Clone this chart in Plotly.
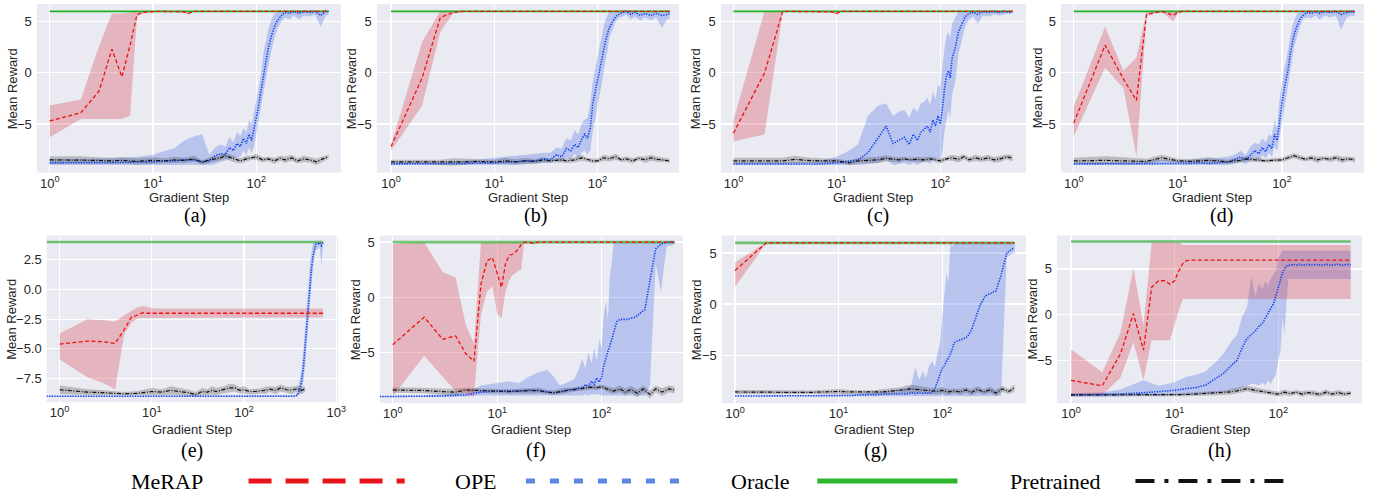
import plotly.graph_objects as go

W, H = 1391, 498

# ---------------- data ----------------
PANEL_LABELS = ["(a)", "(b)", "(c)", "(d)", "(e)", "(f)", "(g)", "(h)"]
ORACLE_VALUES = [6, 6, 6, 6, 4, 5, 6, 8]
ORACLE_START = [1, 1, 1, 1, 0.72, 1, 1, 1]
ORACLE_END = [500, 500, 500, 500, 720, 500, 500, 500]

X_TICK_VALUES = [1, 10, 100, 1000]
X_TICK_TEXT = ["10<sup>0</sup>", "10<sup>1</sup>", "10<sup>2</sup>", "10<sup>3</sup>"]
Y_TICKS_MAIN = [-5, 0, 5]
Y_TICKS_MAIN_TEXT = ["\u22125", "0", "5"]
Y_TICKS_E = [-7.5, -5, -2.5, 0, 2.5]
Y_TICKS_E_TEXT = ["\u22127.5", "\u22125.0", "\u22122.5", "0.0", "2.5"]

LEGEND_NAMES = ["MeRAP", "OPE", "Oracle", "Pretrained"]

MERAP_STEPS = [1, 2, 3, 4, 5, 6, 7, 8, 9, 10, 11, 12, 13, 14, 15, 16, 17, 18, 20, 22, 25, 30, 50, 100, 200, 500]
E_MERAP_STEPS = [1, 2, 3, 4, 5, 6, 7, 8, 9, 10, 11, 12, 13, 14, 15, 16, 17, 18, 20, 22, 25, 30, 50, 100, 200, 720]

OPE_STEPS = [1, 2, 3, 5, 7, 10, 13, 16, 20, 25, 30, 35, 40, 45, 50, 55, 60, 65, 70, 75,
             80, 85, 90, 95, 100, 105, 110, 115, 120, 125, 130, 140, 150, 160, 175,
             190, 210, 230, 260, 290, 330, 370, 420, 470, 500]
F_OPE_STEPS = [0.75, 1, 2, 3, 5, 7, 10, 13, 16, 20, 25, 30, 35, 40, 45, 50, 55, 60, 65, 70, 75,
               80, 85, 90, 95, 100, 105, 110, 115, 120, 125, 130, 140, 150, 160, 175,
               190, 210, 230, 260, 290, 330, 370, 420, 470, 500]
E_OPE_STEPS = [0.72, 1, 2, 5, 10, 20, 50, 100, 200, 300, 360, 380, 400, 420, 440, 460, 480,
               500, 520, 540, 560, 580, 600, 630, 660, 690, 720]

PRE_STEPS = [1, 2, 3, 4, 5, 7, 10, 13, 16, 20, 25, 30, 35, 40, 45, 50, 60, 70, 80, 90, 100,
             115, 130, 150, 170, 190, 220, 250, 290, 330, 380, 440, 500]
E_PRE_STEPS = [1, 2, 3, 4, 5, 7, 10, 13, 16, 20, 25, 30, 35, 40, 45, 50, 60, 70, 80, 90, 100,
               115, 130, 150, 170, 190, 220, 250, 290, 330, 380, 420, 460]

# ---- MeRAP ----
A_MERAP = [-4.7, -3.9, -1.8, 2.3, -0.4, 2.7, 5.7, 5.9, 5.95, 6.0, 6.0, 6.0, 6.0, 6.0, 6.0, 6.0, 6.0, 6.0, 5.95, 5.8, 6.0, 6.0, 6.0, 6.0, 6.0, 6.0]
A_MERAP_LO = [-6.3, -4.5, -4.5, -4.5, -4.5, -4.2, 5.5, 5.8, 5.9, 5.95, 5.95, 5.95, 5.95, 5.95, 5.95, 5.95, 5.95, 5.95, 5.85, 5.7, 5.95, 5.95, 5.95, 5.95, 5.95, 5.95]
A_MERAP_HI = [-3.2, -2.6, 2.6, 5.8, 5.8, 5.9, 6.0, 6.05, 6.05, 6.05, 6.05, 6.05, 6.05, 6.05, 6.05, 6.05, 6.05, 6.05, 6.05, 5.9, 6.05, 6.05, 6.05, 6.05, 6.05, 6.05]

B_MERAP = [-7.2, -0.5, 5.4, 5.9, 6.0, 6.0, 6.0, 6.0, 6.0, 6.0, 6.0, 6.0, 6.0, 6.0, 6.0, 6.0, 6.0, 6.0, 6.0, 6.0, 6.0, 6.0, 6.0, 6.0, 6.0, 6.0]
B_MERAP_LO = [-7.6, -3.2, 4.0, 5.8, 5.95, 5.95, 5.95, 5.95, 5.95, 5.95, 5.95, 5.95, 5.95, 5.95, 5.95, 5.95, 5.95, 5.95, 5.95, 5.95, 5.95, 5.95, 5.95, 5.95, 5.95, 5.95]
B_MERAP_HI = [-7.0, 3.0, 6.05, 6.05, 6.05, 6.05, 6.05, 6.05, 6.05, 6.05, 6.05, 6.05, 6.05, 6.05, 6.05, 6.05, 6.05, 6.05, 6.05, 6.05, 6.05, 6.05, 6.05, 6.05, 6.05, 6.05]

C_MERAP = [-5.9, 0.0, 6.0, 6.0, 6.0, 6.0, 6.0, 6.0, 5.95, 5.8, 6.0, 6.0, 6.0, 6.0, 6.0, 6.0, 6.0, 6.0, 6.0, 6.0, 6.0, 6.0, 6.0, 6.0, 6.0, 6.0]
C_MERAP_LO = [-6.7, -6.0, 5.95, 5.95, 5.95, 5.95, 5.95, 5.95, 5.85, 5.65, 5.95, 5.95, 5.95, 5.95, 5.95, 5.95, 5.95, 5.95, 5.95, 5.95, 5.95, 5.95, 5.95, 5.95, 5.95, 5.95]
C_MERAP_HI = [-4.6, 6.0, 6.05, 6.05, 6.05, 6.05, 6.05, 6.05, 6.05, 5.95, 6.05, 6.05, 6.05, 6.05, 6.05, 6.05, 6.05, 6.05, 6.05, 6.05, 6.05, 6.05, 6.05, 6.05, 6.05, 6.05]

D_MERAP = [-4.9, 2.7, -0.6, -2.7, 5.7, 5.9, 6.0, 5.8, 5.6, 5.9, 6.0, 6.0, 6.0, 6.0, 6.0, 6.0, 6.0, 6.0, 6.0, 6.0, 6.0, 6.0, 6.0, 6.0, 6.0, 6.0]
D_MERAP_LO = [-6.2, 0.5, -1.5, -8.2, 5.5, 5.8, 5.9, 5.5, 5.0, 5.8, 5.95, 5.95, 5.95, 5.95, 5.95, 5.95, 5.95, 5.95, 5.95, 5.95, 5.95, 5.95, 5.95, 5.95, 5.95, 5.95]
D_MERAP_HI = [-3.3, 4.5, 0.2, 1.5, 5.95, 6.05, 6.05, 6.05, 6.05, 6.05, 6.05, 6.05, 6.05, 6.05, 6.05, 6.05, 6.05, 6.05, 6.05, 6.05, 6.05, 6.05, 6.05, 6.05, 6.05, 6.05]

E_MERAP = [-4.6, -4.35, -4.4, -4.55, -3.4, -2.35, -2.15, -1.95, -2.0, -2.0, -2.0, -2.0, -2.0, -2.0, -2.0, -2.0, -2.0, -2.0, -2.0, -2.0, -2.0, -2.0, -2.0, -2.0, -2.0, -2.0]
E_MERAP_LO = [-5.9, -7.4, -7.9, -8.4, -3.8, -2.8, -2.45, -2.4, -2.4, -2.35, -2.35, -2.35, -2.35, -2.35, -2.35, -2.35, -2.35, -2.35, -2.35, -2.35, -2.35, -2.35, -2.35, -2.35, -2.35, -2.35]
E_MERAP_HI = [-3.7, -2.5, -2.6, -2.7, -2.2, -1.8, -1.5, -1.4, -1.5, -1.55, -1.6, -1.6, -1.6, -1.6, -1.6, -1.6, -1.6, -1.6, -1.6, -1.6, -1.6, -1.6, -1.6, -1.6, -1.6, -1.6]

F_MERAP = [-4.3, -1.8, -3.8, -3.5, -5.1, -5.8, 1.2, 3.3, 3.6, 2.1, 0.9, 3.0, 3.8, 3.9, 4.1, 4.4, 4.8, 5.0, 5.0, 4.9, 5.0, 5.0, 5.0, 5.0, 5.0, 5.0]
F_MERAP_LO = [-9.0, -5.3, -7.2, -8.5, -8.8, -9.0, -1.5, 0.5, 1.0, -1.5, -1.9, 0.5, 1.5, 2.0, 2.2, 2.4, 2.5, 4.8, 4.9, 4.8, 4.95, 4.95, 4.95, 4.95, 4.95, 4.95]
F_MERAP_HI = [4.8, 5.0, 2.3, 1.8, -2.5, -4.2, 5.0, 5.0, 5.0, 5.0, 5.0, 5.0, 5.0, 5.0, 5.0, 5.0, 5.0, 5.05, 5.05, 5.05, 5.05, 5.05, 5.05, 5.05, 5.05, 5.05]

G_MERAP = [3.3, 6.0, 6.0, 6.0, 6.0, 6.0, 6.0, 6.0, 6.0, 6.0, 6.0, 6.0, 6.0, 6.0, 6.0, 6.0, 6.0, 6.0, 6.0, 6.0, 6.0, 6.0, 6.0, 6.0, 6.0, 6.0]
G_MERAP_LO = [1.7, 5.95, 5.95, 5.95, 5.95, 5.95, 5.95, 5.95, 5.95, 5.95, 5.95, 5.95, 5.95, 5.95, 5.95, 5.95, 5.95, 5.95, 5.95, 5.95, 5.95, 5.95, 5.95, 5.95, 5.95, 5.95]
G_MERAP_HI = [4.1, 6.05, 6.05, 6.05, 6.05, 6.05, 6.05, 6.05, 6.05, 6.05, 6.05, 6.05, 6.05, 6.05, 6.05, 6.05, 6.05, 6.05, 6.05, 6.05, 6.05, 6.05, 6.05, 6.05, 6.05, 6.05]

H_MERAP = [-7.2, -7.8, -4.3, 0.1, -3.9, 3.0, 3.7, 3.7, 3.3, 3.7, 4.8, 5.6, 5.9, 5.95, 5.95, 5.95, 5.95, 5.95, 5.95, 5.95, 5.95, 5.95, 5.95, 5.95, 5.95, 5.95]
H_MERAP_LO = [-8.8, -8.8, -6.9, -3.0, -7.2, -2.8, -2.8, -2.8, -2.8, -1.0, 0.5, 1.7, 1.7, 1.7, 1.7, 1.7, 1.7, 1.7, 1.7, 1.7, 1.7, 1.7, 1.7, 1.7, 1.7, 1.7]
H_MERAP_HI = [-3.8, -6.3, -2.0, 5.1, -1.2, 7.9, 7.9, 7.9, 7.9, 7.9, 7.9, 7.6, 7.6, 7.6, 7.6, 7.6, 7.6, 7.6, 7.6, 7.6, 7.6, 7.6, 7.6, 7.6, 7.6, 7.6]

# ---- OPE ----
A_OPE = [-8.8, -8.8, -8.8, -8.75, -8.7, -8.7, -8.6, -8.6, -8.5, -8.5,
         -8.7, -8.6, -8.1, -7.9, -8.0, -7.3, -7.6, -6.9, -7.2, -6.4,
         -6.9, -6.0, -6.6, -5.5, -4.5, -3.3, -2.0, -0.8, 0.3, 1.3,
         2.3, 3.6, 4.5, 5.1, 5.6, 5.9, 5.8, 6.0, 5.8, 6.0,
         5.9, 6.0, 5.6, 6.0, 6.0]
A_OPE_LO = [-9.0, -9.0, -9.0, -9.0, -9.0, -9.0, -9.0, -9.0, -9.0, -9.0,
            -9.0, -9.0, -8.9, -8.7, -8.6, -8.4, -8.4, -8.2, -8.2, -7.6,
            -8.0, -7.3, -7.8, -7.2, -6.2, -5.0, -3.6, -2.6, -1.4, -0.4,
            0.6, 2.2, 3.4, 4.3, 5.0, 5.4, 5.2, 5.6, 5.2, 5.6,
            5.5, 5.7, 4.5, 5.6, 5.7]
A_OPE_HI = [-8.4, -8.4, -8.4, -8.3, -8.2, -8.0, -7.6, -7.4, -6.6, -6.2,
            -6.0, -8.0, -7.3, -7.0, -7.2, -6.3, -6.8, -5.8, -6.2, -5.4,
            -5.8, -4.6, -5.0, -3.8, -2.8, -1.6, -0.4, 1.0, 2.6, 3.2,
            4.2, 5.2, 5.8, 6.0, 6.0, 6.0, 6.0, 6.0, 6.0, 6.0,
            6.0, 6.0, 6.0, 6.0, 6.0]

B_OPE = [-8.9, -8.9, -8.9, -8.85, -8.8, -8.8, -8.7, -8.7, -8.6, -8.6,
         -8.4, -8.5, -8.0, -8.2, -7.4, -7.6, -7.0, -7.3, -6.5, -6.0,
         -6.4, -5.4, -3.0, -1.8, -0.5, 0.6, 1.4, 2.4, 3.2, 3.8,
         4.4, 5.0, 5.5, 5.7, 5.9, 6.0, 5.7, 5.9, 5.6, 5.8,
         5.6, 5.8, 5.6, 5.7, 5.8]
B_OPE_LO = [-9.0, -9.0, -9.0, -9.0, -9.0, -9.0, -9.0, -9.0, -8.9, -8.9,
            -8.8, -8.8, -8.6, -8.7, -8.3, -8.5, -7.9, -8.4, -7.8, -7.6,
            -8.0, -7.6, -5.6, -4.6, -3.2, -2.2, -1.2, 0.2, 1.4, 2.2,
            3.4, 4.2, 5.0, 5.3, 5.5, 5.7, 5.2, 5.5, 5.1, 5.4,
            5.1, 5.4, 4.4, 5.2, 5.3]
B_OPE_HI = [-8.7, -8.7, -8.7, -8.6, -8.5, -8.3, -8.2, -8.1, -8.0, -7.9,
            -7.8, -7.8, -7.3, -7.4, -6.4, -6.6, -5.6, -6.0, -5.0, -4.6,
            -4.4, -3.0, -0.8, 0.4, 1.8, 2.8, 3.6, 4.6, 5.2, 5.6,
            6.0, 6.0, 6.0, 6.0, 6.0, 6.0, 6.0, 6.0, 6.0, 6.0,
            6.0, 6.0, 6.0, 6.0, 6.0]

C_OPE = [-8.9, -8.9, -8.9, -8.9, -8.9, -8.8, -8.6, -8.5, -7.8, -6.3,
         -5.2, -6.9, -6.6, -6.3, -7.0, -6.0, -6.6, -5.8, -5.5, -5.2,
         -5.8, -4.6, -5.2, -4.2, -5.0, -3.5, -1.5, -0.3, 0.2, -0.5,
         1.4, 2.5, 4.0, 4.6, 5.5, 5.8, 5.9, 5.7, 6.0, 5.9,
         6.0, 5.9, 6.0, 5.9, 6.0]
C_OPE_LO = [-9.0, -9.0, -9.0, -9.0, -9.0, -9.0, -9.0, -9.0, -8.9, -8.8,
            -8.5, -9.0, -8.9, -8.8, -9.0, -8.8, -9.0, -8.8, -8.6, -8.7,
            -8.9, -8.5, -8.6, -8.2, -8.6, -7.6, -5.6, -4.6, -3.6, -4.4,
            -2.2, -0.8, 1.8, 3.0, 4.6, 5.2, 5.5, 4.8, 5.6, 5.5,
            5.7, 5.6, 5.7, 5.8, 5.8]
C_OPE_HI = [-8.7, -8.7, -8.7, -8.7, -8.6, -8.2, -7.6, -7.0, -4.2, -3.2,
            -3.0, -4.2, -3.8, -3.6, -4.4, -3.4, -3.8, -3.0, -2.8, -2.4,
            -3.2, -1.8, -2.6, -1.2, -1.4, 0.6, 2.4, 3.6, 4.0, 3.4,
            4.8, 5.4, 6.0, 6.0, 6.0, 6.0, 6.0, 6.0, 6.0, 6.0,
            6.0, 6.0, 6.0, 6.0, 6.0]

D_OPE = [-8.9, -8.9, -8.9, -8.9, -8.85, -8.9, -8.85, -8.8, -8.85, -8.8,
         -8.7, -8.5, -8.2, -8.5, -8.0, -7.6, -7.9, -7.3, -7.7, -7.0,
         -7.4, -6.0, -6.6, -4.5, -3.0, -1.6, -0.6, 0.4, 1.8, 2.8,
         3.6, 4.6, 5.3, 5.6, 5.9, 5.8, 6.0, 5.8, 6.0, 5.9,
         6.0, 5.7, 5.9, 6.0, 5.9]
D_OPE_LO = [-9.0, -9.0, -9.0, -9.0, -9.0, -9.0, -9.0, -9.0, -9.0, -9.0,
            -9.0, -8.9, -8.7, -8.9, -8.6, -8.3, -8.6, -8.0, -8.4, -7.8,
            -8.2, -7.2, -7.6, -6.2, -5.0, -3.6, -2.4, -1.2, 0.0, 1.2,
            2.4, 3.6, 4.6, 5.2, 5.4, 5.3, 5.6, 5.2, 5.6, 5.4,
            5.6, 4.2, 5.4, 5.6, 5.5]
D_OPE_HI = [-8.7, -8.7, -8.7, -8.6, -8.5, -8.6, -8.5, -8.4, -8.4, -8.3,
            -8.2, -8.0, -7.6, -8.0, -7.2, -6.8, -7.0, -6.4, -6.8, -6.0,
            -6.2, -4.6, -5.4, -2.6, -1.0, 0.4, 1.2, 2.4, 3.6, 4.4,
            5.0, 5.8, 6.0, 6.0, 6.0, 6.0, 6.0, 6.0, 6.0, 6.0,
            6.0, 6.0, 6.0, 6.0, 6.0]

E_OPE = [-9.0, -9.0, -9.0, -9.0, -9.0, -9.0, -9.0, -9.0, -9.0, -9.0,
         -9.0, -8.9, -8.5, -7.8, -6.6, -4.8, -3.0, -1.0, 0.5, 1.8,
         2.8, 3.4, 3.8, 3.85, 3.95, 3.7, 3.95]
E_OPE_LO = [-9.05, -9.05, -9.05, -9.05, -9.05, -9.05, -9.05, -9.05, -9.05, -9.05,
            -9.05, -9.0, -8.9, -8.6, -7.8, -6.4, -4.8, -2.8, -1.0, 0.6,
            1.8, 2.8, 3.3, 3.4, 3.7, 2.0, 3.7]
E_OPE_HI = [-8.95, -8.95, -8.95, -8.95, -8.95, -8.95, -8.95, -8.95, -8.95, -8.95,
            -8.9, -8.6, -7.8, -6.8, -5.2, -3.2, -1.2, 0.8, 2.2, 3.2,
            3.9, 4.0, 4.0, 4.0, 4.0, 4.0, 4.0]

F_OPE = [-9.0,
         -9.0, -9.0, -8.95, -8.85, -8.6, -8.5, -8.45, -8.5, -8.4, -8.45,
         -8.55, -8.65, -8.6, -8.5, -8.35, -8.4, -8.2, -8.3, -7.9, -8.1,
         -7.6, -7.9, -7.3, -7.7, -7.2, -6.2, -5.4, -4.9, -4.4, -3.8,
         -3.1, -2.2, -2.0, -2.0, -2.0, -1.9, -1.8, -1.5, -1.1, 1.5,
         4.4, 4.8, 5.0, 5.0, 5.0]
F_OPE_LO = [-9.05,
            -9.05, -9.05, -9.0, -9.0, -8.9, -8.9, -8.9, -8.9, -8.9, -8.9,
            -8.9, -8.9, -8.9, -8.9, -8.9, -8.9, -8.9, -8.9, -8.8, -8.9,
            -8.8, -8.8, -8.8, -8.8, -8.9, -8.9, -8.9, -8.9, -8.9, -8.9,
            -8.9, -8.9, -8.9, -8.9, -8.9, -8.9, -8.9, -8.9, -8.9, -8.0,
            3.0, 0.5, 4.6, 4.7, 4.8]
F_OPE_HI = [-8.95,
            -8.95, -8.9, -8.8, -8.6, -8.0, -7.8, -7.6, -7.8, -7.2, -6.8,
            -6.6, -7.2, -8.0, -7.8, -7.6, -7.4, -6.6, -5.6, -6.4, -5.0,
            -6.0, -4.6, -5.8, -3.8, -4.6, -1.6, -0.4, -2.0, 2.0, 3.0,
            5.0, 5.0, 5.0, 5.0, 5.0, 5.0, 5.0, 5.0, 5.0, 5.0,
            5.0, 5.0, 5.0, 5.0, 5.0]

G_OPE = [-9.0, -9.0, -9.0, -9.0, -9.0, -8.95, -8.95, -8.9, -8.9, -8.85,
         -8.8, -8.8, -8.75, -8.8, -8.7, -8.75, -8.7, -8.75, -8.7, -8.75,
         -8.6, -8.3, -7.6, -7.0, -6.3, -6.0, -5.6, -5.3, -4.9, -4.4,
         -3.8, -3.6, -3.5, -3.4, -3.2, -2.6, -1.4, -0.2, 0.8, 1.0,
         1.3, 2.8, 5.0, 5.4, 5.5]
G_OPE_LO = [-9.05, -9.05, -9.05, -9.05, -9.05, -9.05, -9.05, -9.0, -9.0, -9.0,
            -9.0, -9.0, -9.0, -9.0, -9.0, -9.0, -9.0, -9.0, -9.0, -9.0,
            -9.0, -9.0, -9.0, -9.0, -9.0, -9.0, -9.0, -9.0, -9.0, -9.0,
            -9.0, -9.0, -9.0, -9.0, -9.0, -9.0, -9.0, -9.0, -9.0, -9.0,
            -9.0, -9.0, 4.6, 4.9, 5.0]
G_OPE_HI = [-8.95, -8.95, -8.95, -8.95, -8.9, -8.85, -8.8, -8.8, -8.7, -8.6,
            -8.5, -8.4, -8.3, -8.2, -8.0, -6.2, -7.4, -6.6, -7.2, -6.0,
            -5.6, -6.2, -4.8, -4.0, -1.2, 1.0, 3.0, 2.2, 6.0, 5.6,
            6.0, 6.0, 6.0, 6.0, 6.0, 6.0, 6.0, 6.0, 6.0, 6.0,
            6.0, 6.0, 6.0, 6.0, 5.9]

H_OPE = [-8.8, -8.75, -8.7, -8.55, -8.45, -8.3, -8.1, -8.0, -7.7, -7.0,
         -6.4, -5.6, -5.0, -3.6, -2.6, -2.2, -1.8, -1.3, -1.0, -0.4,
         0.2, 0.6, 1.2, 2.0, 3.0, 3.8, 4.6, 5.0, 5.3, 5.4,
         5.4, 5.5, 5.4, 5.5, 5.4, 5.5, 5.4, 5.5, 5.4, 5.5,
         5.4, 5.5, 5.4, 5.5, 5.4]
H_OPE_LO = [-9.0, -9.0, -9.0, -8.9, -8.9, -8.8, -8.8, -8.7, -8.7, -8.6,
            -8.4, -8.3, -8.2, -8.0, -7.8, -7.6, -7.6, -7.8, -7.4, -7.8,
            -7.2, -7.6, -7.0, -6.6, -5.0, -4.0, -0.4, -2.2, 1.2, 3.9,
            3.9, 3.9, 3.9, 3.9, 3.9, 3.9, 3.9, 3.9, 3.9, 3.9,
            3.9, 3.9, 3.9, 3.9, 3.9]
H_OPE_HI = [-8.6, -8.5, -8.2, -7.2, -7.8, -7.4, -6.8, -6.6, -6.2, -5.2,
            -4.2, -3.0, -2.2, -0.2, 0.8, 4.2, 2.0, 3.4, 2.8, 3.6,
            3.2, 4.0, 4.4, 4.8, 6.2, 6.6, 7.0, 7.0, 7.0, 7.0,
            7.0, 7.0, 7.0, 7.0, 7.0, 7.0, 7.0, 7.0, 7.0, 7.0,
            7.0, 7.0, 7.0, 7.0, 7.0]

# ---- Pretrained (mean and band half-width) ----
A_PRE = [-8.5, -8.5, -8.55, -8.6, -8.55, -8.65, -8.55, -8.6, -8.5, -8.55, -8.4, -8.75, -8.5, -8.4, -8.3, -8.1, -8.4,
         -8.6, -8.4, -8.3, -8.2, -8.5, -8.4, -8.6, -8.35, -8.5, -8.3, -8.6, -8.4, -8.5, -8.7, -8.4, -8.2]
A_PRE_SD = [0.35, 0.35, 0.3, 0.3, 0.3, 0.3, 0.3, 0.25, 0.3, 0.25, 0.3, 0.2, 0.25, 0.25, 0.25, 0.3, 0.3,
            0.25, 0.3, 0.2, 0.3, 0.25, 0.2, 0.3, 0.25, 0.3, 0.3, 0.25, 0.3, 0.25, 0.3, 0.25, 0.2]
B_PRE = [-8.7, -8.7, -8.75, -8.7, -8.7, -8.65, -8.7, -8.6, -8.7, -8.6, -8.65, -8.5, -8.6, -8.55, -8.5, -8.6, -8.5,
         -8.3, -8.5, -8.6, -8.6, -8.3, -8.4, -8.2, -8.5, -8.4, -8.6, -8.35, -8.5, -8.3, -8.45, -8.5, -8.6]
B_PRE_SD = [0.2, 0.2, 0.25, 0.35, 0.3, 0.2, 0.2, 0.3, 0.25, 0.3, 0.2, 0.25, 0.2, 0.2, 0.25, 0.2, 0.25,
            0.3, 0.2, 0.2, 0.2, 0.3, 0.25, 0.3, 0.2, 0.25, 0.25, 0.2, 0.3, 0.3, 0.25, 0.2, 0.2]
C_PRE = [-8.6, -8.6, -8.6, -8.45, -8.55, -8.6, -8.6, -8.8, -8.6, -8.55, -8.5, -8.35, -8.45, -8.5, -8.4, -8.5, -8.45,
         -8.5, -8.4, -8.5, -8.6, -8.4, -8.3, -8.45, -8.2, -8.5, -8.3, -8.45, -8.3, -8.5, -8.4, -8.2, -8.35]
C_PRE_SD = [0.3, 0.3, 0.3, 0.35, 0.3, 0.25, 0.2, 0.2, 0.25, 0.3, 0.3, 0.3, 0.25, 0.25, 0.2, 0.2, 0.25,
            0.25, 0.2, 0.2, 0.25, 0.2, 0.3, 0.3, 0.25, 0.25, 0.3, 0.25, 0.3, 0.25, 0.3, 0.25, 0.3]
D_PRE = [-8.6, -8.55, -8.6, -8.65, -8.65, -8.3, -8.6, -8.65, -8.6, -8.55, -8.6, -8.7, -8.6, -8.55, -8.4, -8.45, -8.5,
         -8.6, -8.55, -8.5, -8.5, -8.3, -8.1, -8.3, -8.45, -8.3, -8.5, -8.35, -8.45, -8.3, -8.5, -8.4, -8.5]
D_PRE_SD = [0.3, 0.4, 0.35, 0.3, 0.25, 0.3, 0.2, 0.2, 0.25, 0.3, 0.2, 0.2, 0.25, 0.2, 0.25, 0.2, 0.2,
            0.15, 0.2, 0.2, 0.2, 0.25, 0.25, 0.25, 0.2, 0.25, 0.3, 0.2, 0.25, 0.25, 0.3, 0.2, 0.25]
E_PRE = [-8.45, -8.65, -8.7, -8.75, -8.8, -8.75, -8.6, -8.65, -8.5, -8.6, -8.7, -8.85, -8.6, -8.65, -8.5, -8.6, -8.45,
         -8.3, -8.3, -8.5, -8.45, -8.6, -8.6, -8.55, -8.5, -8.4, -8.5, -8.3, -8.45, -8.5, -8.35, -8.5, -8.4]
E_PRE_SD = [0.35, 0.25, 0.2, 0.15, 0.15, 0.2, 0.3, 0.25, 0.35, 0.3, 0.25, 0.2, 0.3, 0.25, 0.35, 0.3, 0.3,
            0.35, 0.3, 0.25, 0.3, 0.2, 0.25, 0.2, 0.3, 0.25, 0.3, 0.3, 0.25, 0.3, 0.25, 0.3, 0.25]
F_PRE = [-8.4, -8.45, -8.55, -8.6, -8.4, -8.45, -8.5, -8.55, -8.5, -8.5, -8.45, -8.6, -8.65, -8.55, -8.45, -8.4, -8.3,
         -8.2, -8.15, -8.2, -8.1, -8.35, -8.5, -8.3, -8.6, -8.35, -8.7, -8.3, -8.8, -8.3, -8.6, -8.3, -8.4]
F_PRE_SD = [0.25, 0.25, 0.25, 0.3, 0.2, 0.2, 0.2, 0.2, 0.2, 0.25, 0.25, 0.2, 0.2, 0.25, 0.25, 0.2, 0.2,
            0.2, 0.2, 0.2, 0.2, 0.25, 0.25, 0.3, 0.3, 0.3, 0.35, 0.3, 0.35, 0.3, 0.35, 0.3, 0.3]
G_PRE = [-8.6, -8.62, -8.65, -8.65, -8.65, -8.6, -8.55, -8.6, -8.6, -8.65, -8.6, -8.55, -8.5, -8.45, -8.35, -8.3, -8.35,
         -8.45, -8.5, -8.55, -8.45, -8.6, -8.5, -8.6, -8.4, -8.65, -8.35, -8.6, -8.4, -8.7, -8.3, -8.55, -8.2]
G_PRE_SD = [0.2, 0.2, 0.2, 0.2, 0.2, 0.2, 0.25, 0.2, 0.2, 0.2, 0.25, 0.3, 0.3, 0.3, 0.35, 0.4, 0.35,
            0.3, 0.3, 0.3, 0.3, 0.3, 0.25, 0.3, 0.25, 0.3, 0.3, 0.25, 0.3, 0.3, 0.3, 0.25, 0.35]
H_PRE = [-8.8, -8.8, -8.8, -8.78, -8.78, -8.75, -8.8, -8.75, -8.7, -8.65, -8.6, -8.55, -8.45, -8.35, -8.2, -8.1, -8.3,
         -8.4, -8.5, -8.6, -8.7, -8.5, -8.65, -8.5, -8.7, -8.55, -8.6, -8.75, -8.5, -8.7, -8.55, -8.7, -8.6]
H_PRE_SD = [0.15, 0.15, 0.15, 0.15, 0.15, 0.15, 0.15, 0.2, 0.2, 0.2, 0.25, 0.25, 0.3, 0.3, 0.3, 0.3, 0.3,
            0.25, 0.25, 0.25, 0.25, 0.3, 0.25, 0.25, 0.3, 0.25, 0.3, 0.25, 0.3, 0.25, 0.3, 0.25, 0.25]

# ---------------- layout (pixels) ----------------
BOX = [(37, 343, 3, 172), (379, 683, 3, 172), (725, 1032, 3, 172), (1067, 1372, 3, 172),
       (47, 340, 235, 402), (382, 687, 235, 403), (726, 1032, 235, 403), (1063, 1370, 235, 403)]
X_RANGE = [(-0.125, 2.82), (-0.138, 2.79), (-0.122, 2.83), (-0.124, 2.79),
           (-0.14, 3.02), (-0.124, 2.78), (-0.128, 2.81), (-0.137, 2.81)]
Y_RANGE = [(-9.75, 6.72), (-9.75, 6.72), (-9.75, 6.72), (-9.75, 6.72),
           (-9.5, 4.55), (-9.6, 5.6), (-9.7, 6.72), (-9.7, 8.65)]
YLAB_OFF = [25, 26, 26, 24, 35, 25, 26, 25]
XLAB_Y = [197, 197, 197, 197, 429, 429, 429, 429]
CAP_Y = [215, 215, 215, 215, 450, 450, 450, 450]
CAP_X = [196, 539, 883, 1229, 193, 539, 881, 1227]

C_MERAP_LINE = "#ee1111"
C_MERAP_BAND = "rgba(214,40,50,0.27)"
C_OPE_LINE = "#1040f0"
C_OPE_BAND = "rgba(70,110,230,0.30)"
C_PRE_LINE = "#111111"
C_PRE_BAND = "rgba(60,60,60,0.28)"
C_ORACLE_TOP = "#1fb21f"
C_ORACLE_BOT = "rgba(40,170,40,0.65)"

SANS = "Liberation Sans, Arial, sans-serif"
SERIF = "Liberation Serif, Times New Roman, serif"

panels = [
    dict(ms=MERAP_STEPS, m=A_MERAP, mlo=A_MERAP_LO, mhi=A_MERAP_HI, os=OPE_STEPS, o=A_OPE, olo=A_OPE_LO, ohi=A_OPE_HI, ps=PRE_STEPS, p=A_PRE, psd=A_PRE_SD),
    dict(ms=MERAP_STEPS, m=B_MERAP, mlo=B_MERAP_LO, mhi=B_MERAP_HI, os=OPE_STEPS, o=B_OPE, olo=B_OPE_LO, ohi=B_OPE_HI, ps=PRE_STEPS, p=B_PRE, psd=B_PRE_SD),
    dict(ms=MERAP_STEPS, m=C_MERAP, mlo=C_MERAP_LO, mhi=C_MERAP_HI, os=OPE_STEPS, o=C_OPE, olo=C_OPE_LO, ohi=C_OPE_HI, ps=PRE_STEPS, p=C_PRE, psd=C_PRE_SD),
    dict(ms=MERAP_STEPS, m=D_MERAP, mlo=D_MERAP_LO, mhi=D_MERAP_HI, os=OPE_STEPS, o=D_OPE, olo=D_OPE_LO, ohi=D_OPE_HI, ps=PRE_STEPS, p=D_PRE, psd=D_PRE_SD),
    dict(ms=E_MERAP_STEPS, m=E_MERAP, mlo=E_MERAP_LO, mhi=E_MERAP_HI, os=E_OPE_STEPS, o=E_OPE, olo=E_OPE_LO, ohi=E_OPE_HI, ps=E_PRE_STEPS, p=E_PRE, psd=E_PRE_SD),
    dict(ms=MERAP_STEPS, m=F_MERAP, mlo=F_MERAP_LO, mhi=F_MERAP_HI, os=F_OPE_STEPS, o=F_OPE, olo=F_OPE_LO, ohi=F_OPE_HI, ps=PRE_STEPS, p=F_PRE, psd=F_PRE_SD),
    dict(ms=MERAP_STEPS, m=G_MERAP, mlo=G_MERAP_LO, mhi=G_MERAP_HI, os=OPE_STEPS, o=G_OPE, olo=G_OPE_LO, ohi=G_OPE_HI, ps=PRE_STEPS, p=G_PRE, psd=G_PRE_SD),
    dict(ms=MERAP_STEPS, m=H_MERAP, mlo=H_MERAP_LO, mhi=H_MERAP_HI, os=OPE_STEPS, o=H_OPE, olo=H_OPE_LO, ohi=H_OPE_HI, ps=PRE_STEPS, p=H_PRE, psd=H_PRE_SD),
]

fig = go.Figure()


def band(xs, lo, hi, color, xa, ya):
    xs = list(xs)
    return go.Scatter(x=xs + xs[::-1], y=list(hi) + list(lo)[::-1], fill="toself",
                      fillcolor=color, line=dict(width=0), mode="lines",
                      hoverinfo="skip", showlegend=False, xaxis=xa, yaxis=ya)


def line(xs, ys, color, width, dash, xa, ya):
    return go.Scatter(x=list(xs), y=list(ys), mode="lines",
                      line=dict(color=color, width=width, dash=dash),
                      hoverinfo="skip", showlegend=False, xaxis=xa, yaxis=ya)


annotations = []
shapes = []
layout_axes = {}

for i, pd_ in enumerate(panels):
    n = i + 1
    xa = "x" if n == 1 else f"x{n}"
    ya = "y" if n == 1 else f"y{n}"
    l, r, t, b = BOX[i]

    pre_lo = [m - s for m, s in zip(pd_["p"], pd_["psd"])]
    pre_hi = [m + s for m, s in zip(pd_["p"], pd_["psd"])]

    fig.add_trace(band(pd_["os"], pd_["olo"], pd_["ohi"], C_OPE_BAND, xa, ya))
    fig.add_trace(band(pd_["ps"], pre_lo, pre_hi, C_PRE_BAND, xa, ya))
    fig.add_trace(band(pd_["ms"], pd_["mlo"], pd_["mhi"], C_MERAP_BAND, xa, ya))
    top_row = i < 4
    fig.add_trace(line([ORACLE_START[i], ORACLE_END[i]], [ORACLE_VALUES[i], ORACLE_VALUES[i]],
                       C_ORACLE_TOP if top_row else C_ORACLE_BOT, 1.6 if top_row else 2.6, "solid", xa, ya))
    fig.add_trace(line(pd_["os"], pd_["o"], C_OPE_LINE, 1.6, "1.3px,1.3px", xa, ya))
    fig.add_trace(line(pd_["ps"], pd_["p"], C_PRE_LINE, 1.2, "4px,1.6px,1px,1.6px", xa, ya))
    fig.add_trace(line(pd_["ms"], pd_["m"], C_MERAP_LINE, 1.3, "4px,2.4px", xa, ya))

    if i == 4:
        yt, ytt = Y_TICKS_E, Y_TICKS_E_TEXT
        xt, xtt = X_TICK_VALUES, X_TICK_TEXT
    else:
        yt, ytt = Y_TICKS_MAIN, Y_TICKS_MAIN_TEXT
        xt, xtt = X_TICK_VALUES[:3], X_TICK_TEXT[:3]

    key = "" if n == 1 else str(n)
    layout_axes["xaxis" + key] = dict(
        type="log", range=list(X_RANGE[i]), domain=[l / W, r / W], anchor=ya,
        tickvals=xt, ticktext=xtt, showgrid=True, gridcolor="white", gridwidth=1.3,
        zeroline=False, showline=False, ticks="", ticklabelstandoff=1,
        tickfont=dict(family=SANS, size=13, color="#262626"), fixedrange=True)
    layout_axes["yaxis" + key] = dict(
        range=list(Y_RANGE[i]), domain=[1 - b / H, 1 - t / H], anchor=xa,
        tickvals=yt, ticktext=ytt, showgrid=True, gridcolor="white", gridwidth=1.3,
        zeroline=False, showline=False, ticks="", ticklabelstandoff=4,
        tickfont=dict(family=SANS, size=13, color="#262626"), fixedrange=True)

    annotations.append(dict(text="Gradient Step", xref="paper", yref="paper",
                            x=(l + r) / 2 / W, y=1 - XLAB_Y[i] / H, xanchor="center", yanchor="middle",
                            showarrow=False, font=dict(family=SANS, size=13, color="#262626")))
    annotations.append(dict(text="Mean Reward", xref="paper", yref="paper", textangle=-90,
                            x=(l - YLAB_OFF[i]) / W, y=1 - (t + b) / 2 / H, xanchor="center", yanchor="middle",
                            showarrow=False, font=dict(family=SANS, size=13, color="#262626")))
    annotations.append(dict(text=PANEL_LABELS[i], xref="paper", yref="paper",
                            x=CAP_X[i] / W, y=1 - CAP_Y[i] / H, xanchor="center", yanchor="middle",
                            showarrow=False, font=dict(family=SERIF, size=20, color="black")))

# ---------------- bottom legend ----------------
LEG_Y = 481
LEG_TEXT_X = [168, 479, 765, 1061]
LEG_LINE = [(250, 407, "#e8141b", 5, "23px,14px"),
            (529, 686, "#5b87e6", 5, "9px,15px"),
            (822, 963, "#2db52d", 5, "solid"),
            (1142, 1294, "#111111", 4, "19px,10px,4px,10px")]
for name, tx, (x0, x1, col, wd, dsh) in zip(LEGEND_NAMES, LEG_TEXT_X, LEG_LINE):
    annotations.append(dict(text=name, xref="paper", yref="paper", x=tx / W, y=1 - LEG_Y / H,
                            xanchor="center", yanchor="middle", showarrow=False,
                            font=dict(family=SERIF, size=22, color="black")))
    shapes.append(dict(type="line", xref="paper", yref="paper", x0=x0 / W, x1=x1 / W,
                       y0=1 - LEG_Y / H, y1=1 - LEG_Y / H, line=dict(color=col, width=wd, dash=dsh)))

fig.update_layout(
    width=W, height=H, margin=dict(l=0, r=0, t=0, b=0),
    paper_bgcolor="white", plot_bgcolor="#EAEAF2",
    showlegend=False, annotations=annotations, shapes=shapes,
    **layout_axes,
)

# remove the browser's default page margin so the figure sits at the window's origin
fig.write_html("out.html",
               config={"displayModeBar": False, "staticPlot": True},
               post_script="document.body.style.margin='0';document.body.style.overflow='hidden';")
